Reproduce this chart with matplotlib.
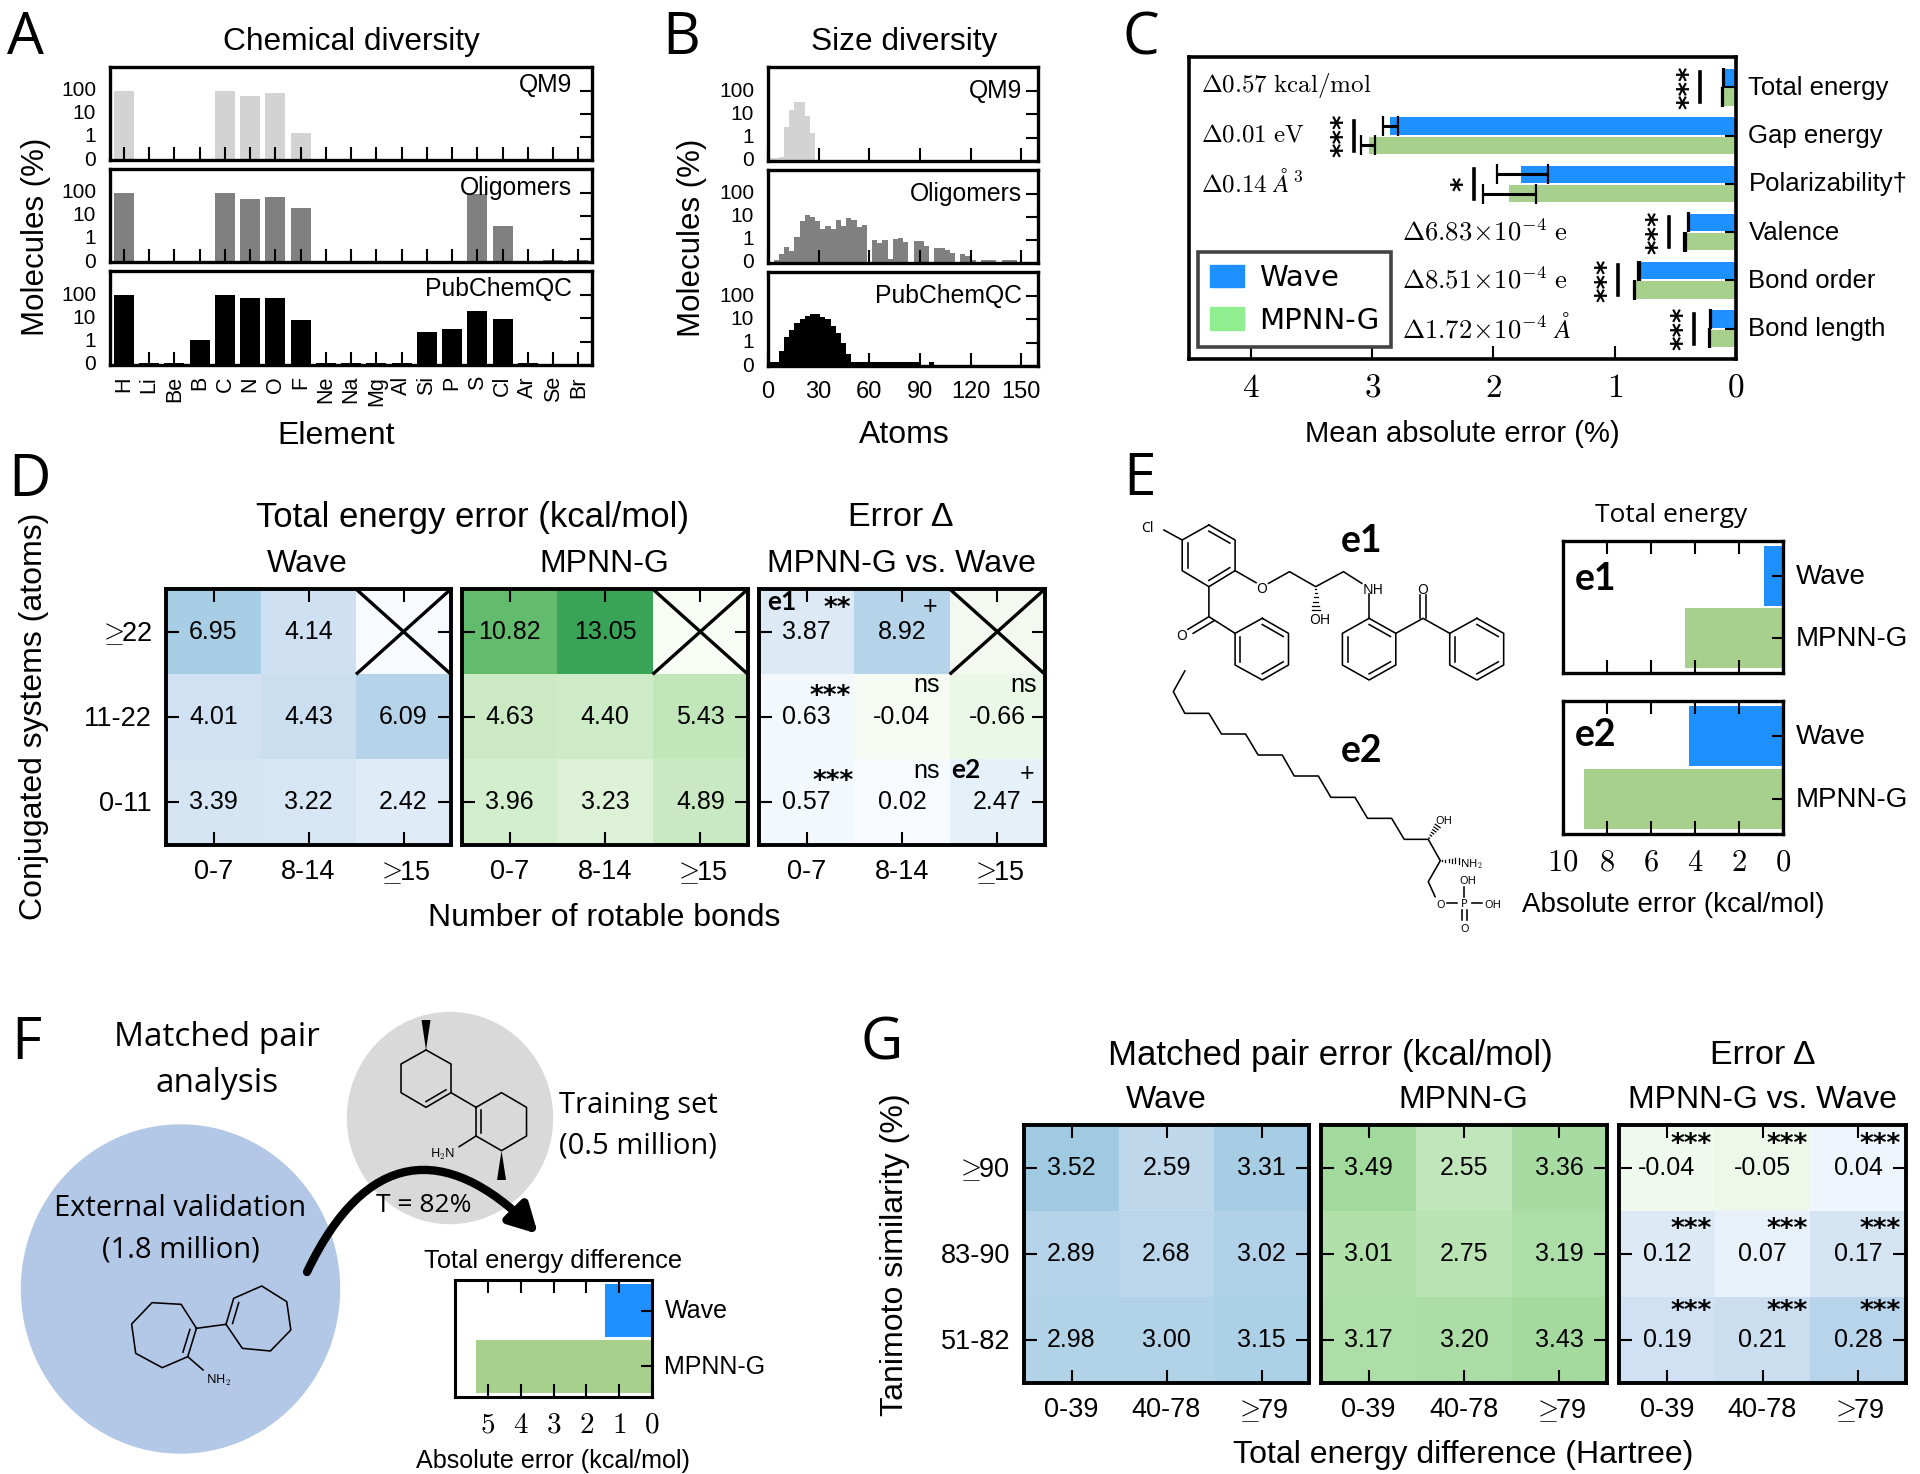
import numpy as np
import matplotlib
matplotlib.use('Agg')
import matplotlib.pyplot as plt
from matplotlib.patches import Ellipse, FancyArrowPatch, Patch
from matplotlib.path import Path
from matplotlib.ticker import NullLocator
from matplotlib.transforms import ScaledTranslation

plt.rcParams['font.family'] = ['Liberation Sans', 'DejaVu Sans']
plt.rcParams['mathtext.fontset'] = 'cm'

W, H = 1920, 1474

# panel A
elements = ['H', 'Li', 'Be', 'B', 'C', 'N', 'O', 'F', 'Ne', 'Na', 'Mg', 'Al', 'Si', 'P', 'S', 'Cl', 'Ar', 'Se', 'Br']
elem_qm9 = [100, 0, 0, 0, 100, 60, 85, 1.5, 0, 0, 0, 0, 0, 0, 0, 0, 0, 0, 0]
elem_oligo = [100, 0, 0, 0, 100, 57, 70, 22, 0, 0, 0, 0, 0, 0, 90, 3.5, 0, 0.12, 0.12]
elem_pub = [100, 0.12, 0.12, 1.2, 100, 75, 75, 9, 0.12, 0.12, 0.12, 0.12, 2.7, 3.7, 20, 9.5, 0.12, 0, 0]

# panel B, bins of about 3 atoms
size_qm9 = [0.14, 0.14, 0.15, 2.8, 16, 36, 34, 8.4, 1.6, 0.11]
size_oligo = [0, 0.14, 0.25, 0.5, 0.32, 1.3, 6.5, 12, 10, 7, 3, 4, 3, 7.5, 3.9, 9, 7.5, 3.7, 4.5, 0.1,
              1, 0.75, 1.05, 0.15, 1.1, 1.2, 0.85, 0.1, 0.95, 0.95, 0.57, 0.1, 0.46, 0.46, 0.35, 0.27, 0.1,
              0.25, 0.2, 0.14, 0.1, 0.14, 0.14, 0.14, 0.1, 0.14, 0.14, 0.14]
size_pub = [0.15, 0.15, 0.45, 1.7, 3.6, 7, 11, 14, 17, 17, 12.5, 10, 5.5, 2.5, 1, 0.32,
            0.15, 0.15, 0.15, 0.15, 0.15, 0.15, 0.15, 0.15, 0.15, 0.15, 0.15, 0.15, 0.15, 0, 0, 0.15]

# panel C
props = ['Total energy', 'Gap energy', 'Polarizability†', 'Valence', 'Bond order', 'Bond length']
mae_wave = [0.10, 2.85, 1.77, 0.39, 0.80, 0.21]
mae_mpnn = [0.11, 3.03, 1.87, 0.42, 0.84, 0.22]
err_wave_lo = [0.005, 0.06, 0.22, 0.005, 0.005, 0.005]
err_wave_hi = [0.005, 0.06, 0.20, 0.005, 0.005, 0.005]
err_mpnn_lo = [0.005, 0.05, 0.22, 0.005, 0.005, 0.005]
err_mpnn_hi = [0.005, 0.06, 0.22, 0.005, 0.005, 0.005]
sig_pos = [0.293, 3.15, 2.16, 0.55, 0.97, 0.345]
sig_stars = ['***', '***', '*', '***', '***', '***']
delta_text = [r'$\Delta 0.57\ \mathrm{kcal/mol}$', r'$\Delta 0.01\ \mathrm{eV}$', r'$\Delta 0.14\ \mathit{\AA}^3$',
              r'$\Delta 6.83\!\times\!10^{-4}\ \mathrm{e}$', r'$\Delta 8.51\!\times\!10^{-4}\ \mathrm{e}$',
              r'$\Delta 1.72\!\times\!10^{-4}\ \mathit{\AA}$']

# panel D
GE = r'$\geq\!\!$'
d_rows = [GE + '22', '11-22', '0-11']
d_cols = ['0-7', '8-14', GE + '15']
d_wave = [[6.95, 4.14, np.nan], [4.01, 4.43, 6.09], [3.39, 3.22, 2.42]]
d_mpnn = [[10.82, 13.05, np.nan], [4.63, 4.40, 5.43], [3.96, 3.23, 4.89]]
d_delta = [[3.87, 8.92, np.nan], [0.63, -0.04, -0.66], [0.57, 0.02, 2.47]]

# panel E and F
e1_err = [0.88, 4.47]
e2_err = [4.26, 9.05]
f_err = [1.44, 5.37]

# panel G
g_rows = [GE + '90', '83-90', '51-82']
g_cols = ['0-39', '40-78', GE + '79']
g_wave = [[3.52, 2.59, 3.31], [2.89, 2.68, 3.02], [2.98, 3.00, 3.15]]
g_mpnn = [[3.49, 2.55, 3.36], [3.01, 2.75, 3.19], [3.17, 3.20, 3.43]]
g_delta = [[-0.04, -0.05, 0.04], [0.12, 0.07, 0.17], [0.19, 0.21, 0.28]]

BLUE = '#1e90ff'
GREEN = '#a8d08d'
BOLD = {'weight': 'bold', 'family': 'Lato'}

fig = plt.figure(figsize=(19.2, 14.74), dpi=100)


def add_ax(l, t, r, b, lw=2.4):
    ax = fig.add_axes([l / W, 1 - b / H, (r - l) / W, (b - t) / H])
    for s in ax.spines.values():
        s.set_linewidth(lw)
    return ax


def label(x, y, s, size=22.5, **kw):
    kw.setdefault('ha', 'center')
    kw.setdefault('va', 'center')
    if kw.get('rotation'):
        x += 3
    else:
        y += 3
    fig.text(x / W, 1 - y / H, s, fontsize=size, **kw)


def nudge(ax, dy=2):
    # the y tick labels sit a little above their ticks in the reference
    off = ScaledTranslation(0, dy / 100, fig.dpi_scale_trans)
    for lb in ax.get_yticklabels():
        lb.set_transform(lb.get_transform() + off)


def log_panel(ax, xticks):
    ax.set_yscale('log')
    ax.set_ylim(0.1, 1100)
    ax.set_yticks([0.1, 1, 10, 100], ['0', '1', '10', '100'])
    ax.yaxis.set_minor_locator(NullLocator())
    ax.set_xticks(xticks)
    ax.tick_params(axis='y', direction='in', left=False, right=True, labelleft=True,
                   length=9, width=1.5, pad=10, labelsize=15)
    ax.tick_params(axis='x', direction='in', length=9.5, width=1.5, labelbottom=False)
    nudge(ax)


# ---- A
rows_y = [(67, 160), (169, 262), (271, 365)]
for (t, b), vals, col, name, ty in zip(rows_y, [elem_qm9, elem_oligo, elem_pub], ['lightgray', 'gray', 'black'],
                                       ['QM9', 'Oligomers', 'PubChemQC'], [82, 185, 286]):
    ax = add_ax(110, t, 592, b)
    log_panel(ax, range(len(elements)))
    ax.bar(range(len(elements)), vals, width=0.8, color=col, zorder=1)
    ax.set_xlim(-0.55, 18.54)
    label(572, ty, name, size=17.8, ha='right')
ax.set_xticklabels(elements, rotation=90, fontsize=15.5)
ax.tick_params(axis='x', labelbottom=True, pad=8)
label(33, 237, 'Molecules (%)', rotation=90)
label(336, 433, 'Element', size=23)
label(351, 39, 'Chemical diversity', size=22.8)

# ---- B
bin_w = 3.07
rows_y = [(67, 161), (170, 263), (272, 366)]
for (t, b), vals, col, name, ty in zip(rows_y, [size_qm9, size_oligo, size_pub], ['lightgray', 'gray', 'black'],
                                       ['QM9', 'Oligomers', 'PubChemQC'], [88, 191, 293]):
    ax = add_ax(768, t, 1038, b)
    log_panel(ax, range(0, 151, 30))
    ax.bar(0.3 + bin_w * np.arange(len(vals)), vals, width=bin_w, align='edge', color=col, zorder=1)
    ax.set_xlim(0, 160)
    label(1022, ty, name, size=17.8, ha='right')
ax.tick_params(axis='x', labelbottom=True, labelsize=17, pad=11)
label(689, 238, 'Molecules (%)', rotation=90)
label(904, 432, 'Atoms', size=23)
label(904, 39, 'Size diversity', size=22.8)

# ---- C
ax = add_ax(1189, 57, 1736, 359, lw=2.6)
y = np.arange(len(props))
ax.barh(y - 0.2, mae_wave, height=0.36, color=BLUE, zorder=1)
ax.barh(y + 0.2, mae_mpnn, height=0.36, color=GREEN, zorder=1)
ax.errorbar(mae_wave, y - 0.2, xerr=[err_wave_lo, err_wave_hi], fmt='none', ecolor='k', elinewidth=2.2, capsize=7, capthick=1.6)
ax.errorbar(mae_mpnn, y + 0.2, xerr=[err_mpnn_lo, err_mpnn_hi], fmt='none', ecolor='k', elinewidth=2.2, capsize=7, capthick=1.6)
ax.set_xlim(4.51, 0)
ax.set_ylim(5.63, -0.63)
ax.set_yticks(y, props, fontsize=18.5)
ax.set_xticks(range(5), [f'${i}$' for i in range(5)], fontsize=24)
ax.tick_params(axis='y', direction='in', left=False, right=True, labelleft=False, labelright=True, length=8, width=1.5, pad=9)
ax.tick_params(axis='x', direction='in', length=9.5, width=1.5, pad=10)
nudge(ax)
for i in y:
    ax.plot([sig_pos[i], sig_pos[i]], [i - 0.31, i + 0.31], color='k', lw=2.6)
    ax.text(sig_pos[i] + 0.09, i, sig_stars[i], rotation=90, ha='center', va='center', fontsize=20, family='DejaVu Sans', weight='bold')
for i, s in enumerate(delta_text):
    x0 = 1201 if i < 3 else 1402
    label(x0, [83, 131, 180, 230, 278, 326][i], s, size=18 if i < 3 else 19.2, ha='left')
leg = ax.legend(handles=[Patch(color=BLUE, label='Wave'), Patch(color='#90ee90', label='MPNN-G')], loc='lower left',
                bbox_to_anchor=(0.016, 0.04), borderaxespad=0, fancybox=False, framealpha=1, edgecolor='#444444',
                prop={'family': 'DejaVu Sans', 'size': 21}, handlelength=1.17, handleheight=0.8, handletextpad=0.5,
                labelspacing=0.5, borderpad=0.42)
leg.get_frame().set_linewidth(2.6)
label(1462, 431, 'Mean absolute error (%)', size=21)


# ---- heat maps
def finish_heat(ax, vals, rows, cols):
    for i in range(3):
        for j in range(3):
            if np.isnan(vals[i, j]):
                ax.plot([j - 0.5, j + 0.5], [i - 0.5, i + 0.5], color='k', lw=2.4, solid_capstyle='butt')
                ax.plot([j - 0.5, j + 0.5], [i + 0.5, i - 0.5], color='k', lw=2.4, solid_capstyle='butt')
            else:
                ax.text(j, i, f'{vals[i, j]:.2f}', ha='center', va='center', fontsize=18)
    ax.set_xlim(-0.5, 2.5)
    ax.set_ylim(2.5, -0.5)
    ax.set_xticks(range(3), cols, fontsize=19.5)
    ax.set_yticks(range(3), rows if rows else ['', '', ''], fontsize=19.5)
    ax.tick_params(direction='in', top=True, right=True, length=9.5, width=1.5, pad=10)
    nudge(ax, 1)


def heat(ax, vals, cmap, vmax, rows=None, cols=None, bad='white'):
    vals = np.array(vals, float)
    ax.set_facecolor(bad)
    ax.imshow(np.ma.masked_invalid(vals), cmap=cmap, vmin=0, vmax=vmax, aspect='auto')
    finish_heat(ax, vals, rows, cols)


def heat_delta(ax, vals, vpos, vneg, rows=None, cols=None, bad='white'):
    vals = np.array(vals, float)
    ax.set_facecolor(bad)
    m = np.ma.masked_invalid(vals)
    ax.imshow(np.ma.masked_less(m, 0), cmap='Blues', vmin=0, vmax=vpos, aspect='auto')
    ax.imshow(np.ma.masked_less(-m, 0), cmap='Greens', vmin=0, vmax=vneg, aspect='auto')
    finish_heat(ax, vals, rows, cols)


t, b = 589, 845
heat(add_ax(166, t, 451, b, 2.8), d_wave, 'Blues', 20, d_rows, d_cols, '#f7fbff')
heat(add_ax(462, t, 748, b, 2.8), d_mpnn, 'Greens', 20, None, d_cols, '#f7fcf5')
heat_delta(add_ax(759, t, 1045, b, 2.8), d_delta, 30, 8, None, d_cols, '#f3f9f0')
label(472, 514, 'Total energy error (kcal/mol)', size=25)
label(901, 514, 'Error Δ', size=24.5)
label(307, 561, 'Wave', size=23)
label(604, 561, 'MPNN-G', size=23)
label(901, 561, 'MPNN-G vs. Wave', size=23)
label(604, 915, 'Number of rotable bonds', size=23)
label(31, 716, 'Conjugated systems (atoms)', size=23, rotation=90)
for x0, y0, s in [(837, 606, '**'), (830, 694, '***'), (833, 779, '***')]:
    label(x0, y0, s, size=19, family='DejaVu Sans', weight='bold')
for x0, y0, s in [(930, 604, '+'), (1027, 771, '+')]:
    label(x0, y0, s, size=18)
for x0, y0 in [(927, 682), (1024, 682), (927, 768)]:
    label(x0, y0, 'ns', size=18)
label(782, 599, 'e1', size=19, **BOLD)
label(966, 767, 'e2', size=19, **BOLD)

t, b = 1125, 1383
heat(add_ax(1024, t, 1309, b, 2.8), g_wave, 'Blues', 9.5, g_rows, g_cols)
heat(add_ax(1321, t, 1607, b, 2.8), g_mpnn, 'Greens', 9.5, None, g_cols)
heat_delta(add_ax(1619, t, 1906, b, 2.8), g_delta, 0.95, 0.8, None, g_cols)
label(1330, 1053, 'Matched pair error (kcal/mol)', size=25)
label(1763, 1053, 'Error Δ', size=24.5)
label(1166, 1097, 'Wave', size=23)
label(1463, 1097, 'MPNN-G', size=23)
label(1762, 1097, 'MPNN-G vs. Wave', size=23)
label(1463, 1452, 'Total energy difference (Hartree)', size=23)
label(892, 1255, 'Tanimoto similarity (%)', size=23, rotation=90)
for y0 in [1142, 1227, 1309]:
    for x0 in [1691, 1787, 1880]:
        label(x0, y0, '***', size=19, family='DejaVu Sans', weight='bold')


# ---- small two bar panels
def pair(ax, vals, xlim, xticks, fs, tick_fs):
    ax.barh([0, 1], vals, height=0.96, color=[BLUE, GREEN], zorder=1)
    ax.set_xlim(xlim, 0)
    ax.set_ylim(1.56, -0.56)
    ax.set_xticks(xticks)
    ax.set_yticks([0, 1], ['Wave', 'MPNN-G'], fontsize=fs)
    ax.tick_params(axis='y', direction='in', left=False, right=True, labelleft=False, labelright=True, length=8, width=1.5, pad=9)
    ax.tick_params(axis='x', direction='in', top=True, length=9.5, width=1.5, labelsize=tick_fs, pad=10)
    nudge(ax)


ax = add_ax(1563, 541, 1783, 673)
pair(ax, e1_err, 10, range(2, 9, 2), 20, 22)
ax.tick_params(labelbottom=False)
ax = add_ax(1563, 701, 1783, 834)
pair(ax, e2_err, 10, range(0, 11, 2), 20, 22)
ax.set_xticklabels([f'${i}$' for i in range(0, 11, 2)])
label(1596, 576, 'e1', size=27, **BOLD)
label(1596, 732, 'e2', size=27, **BOLD)
label(1671, 512, 'Total energy', size=19, family='Open Sans')
label(1673, 902, 'Absolute error (kcal/mol)', size=20)

ax = add_ax(455, 1280, 652, 1397, 2.2)
pair(ax, f_err, 6, range(0, 6), 18, 21)
ax.set_xticklabels([f'${i}$' for i in range(6)])
label(553, 1258, 'Total energy difference', size=18.3)
label(553, 1458, 'Absolute error (kcal/mol)', size=18.1)

# ---- panel E and F drawings on a pixel canvas below the other axes
ov = fig.add_axes([0, 0, 1, 1], zorder=-1)
ov.set_xlim(0, W)
ov.set_ylim(H, 0)
ov.axis('off')
ov.add_patch(Ellipse((180.5, 1289), 318, 328, color='#b3c7e6'))
ov.add_patch(Ellipse((450, 1118), 205, 211, color='#d9d9d9'))
arrow_path = Path([(307, 1272), (365, 1150), (445, 1140), (538, 1234)], [Path.MOVETO, Path.CURVE4, Path.CURVE4, Path.CURVE4])
ov.add_patch(FancyArrowPatch(path=arrow_path, lw=6, color='k', arrowstyle='-|>,head_length=1.2,head_width=0.65', mutation_scale=14))


def bonds(conv, pts, closed=False, lw=1.15):
    p = [conv(*q) for q in pts]
    if closed:
        p.append(p[0])
    ov.plot([q[0] for q in p], [q[1] for q in p], color='k', lw=lw, solid_joinstyle='round')


def ring(conv, pts, doubles=()):
    bonds(conv, pts, closed=True)
    p = np.array([conv(*q) for q in pts])
    c = p.mean(axis=0)
    for i in doubles:
        a, b_ = p[i], p[(i + 1) % len(p)]
        a2, b2 = a + (c - a) * 0.2, b_ + (c - b_) * 0.2
        ov.plot([a2[0], b2[0]], [a2[1], b2[1]], color='k', lw=1.15)


def hashed(conv, a, b_, w=4, n=6):
    a, b_ = np.array(conv(*a)), np.array(conv(*b_))
    d = (b_ - a) / np.linalg.norm(b_ - a)
    nrm = np.array([-d[1], d[0]])
    for k in np.linspace(0.1, 1, n):
        m = a + (b_ - a) * k
        ov.plot(*zip(m - nrm * w * k, m + nrm * w * k), color='k', lw=0.9)


def wedge(conv, a, b_, w=4.5):
    a, b_ = np.array(conv(*a)), np.array(conv(*b_))
    d = (b_ - a) / np.linalg.norm(b_ - a)
    nrm = np.array([-d[1], d[0]])
    ov.fill(*zip(a, b_ + nrm * w, b_ - nrm * w), color='k', lw=0)


def z5(x, y):
    return 1100 + x / 1.91, 470 + y / 3


def z6(x, y):
    return x / 1.96, 1000 + y / 3


def atom(conv, x, y, s, size=10):
    px, py = conv(x, y)
    label(px, py - 2, s, size=size, family='Noto Sans')


# e1
ring(z5, [(208, 165), (258, 210), (258, 302), (208, 350), (157, 302), (157, 210)], [0, 2, 4])
bonds(z5, [(122, 180), (157, 210)])
bonds(z5, [(258, 302), (298, 338)])
bonds(z5, [(322, 340), (362, 305), (412, 350), (465, 305), (500, 340)])
hashed(z5, (412, 350), (412, 420))
bonds(z5, [(208, 350), (208, 440), (258, 490)])
bonds(z5, [(208, 440), (168, 478)])
bonds(z5, [(218, 452), (178, 490)])
ring(z5, [(310, 445), (360, 490), (360, 585), (310, 630), (258, 585), (258, 490)], [0, 2, 4])
bonds(z5, [(514, 372), (514, 445)])
ring(z5, [(514, 445), (565, 490), (565, 585), (514, 630), (463, 585), (463, 490)], [0, 2, 4])
bonds(z5, [(565, 490), (617, 445), (668, 490)])
bonds(z5, [(612, 445), (612, 375)])
bonds(z5, [(622, 445), (622, 375)])
ring(z5, [(720, 445), (771, 490), (771, 585), (720, 630), (668, 585), (668, 490)], [0, 2, 4])
for x0, y0, s in [(90, 172, 'Cl'), (309, 355, 'O'), (420, 450, 'OH'), (522, 357, 'NH'), (155, 495, 'O'), (617, 357, 'O')]:
    atom(z5, x0, y0, s)
# e2
bonds(z5, [(162, 603), (140, 665), (162, 730), (208, 730), (232, 792), (278, 792), (302, 855), (348, 855), (371, 918),
           (417, 918), (441, 982), (487, 982), (511, 1045), (557, 1045), (581, 1108), (627, 1108), (650, 1172),
           (627, 1235), (640, 1280)])
hashed(z5, (627, 1108), (645, 1068), w=3)
hashed(z5, (650, 1172), (685, 1172), w=3)
bonds(z5, [(662, 1300), (682, 1300)])
bonds(z5, [(710, 1300), (730, 1300)])
bonds(z5, [(696, 1250), (696, 1282)])
bonds(z5, [(691, 1320), (691, 1350)])
bonds(z5, [(701, 1320), (701, 1350)])
for x0, y0, s in [(656, 1050, 'OH'), (710, 1178, r'NH$_2$'), (650, 1302, 'O'), (696, 1300, 'P'), (750, 1302, 'OH'),
                  (703, 1230, 'OH'), (696, 1375, 'O')]:
    atom(z5, x0, y0, s, size=8)
label(1100 + 500 / 1.91, 470 + 205 / 3, 'e1', size=27, **BOLD)
label(1100 + 500 / 1.91, 470 + 835 / 3, 'e2', size=27, **BOLD)

# panel F molecules
ring(z6, [(835, 150), (884, 192), (884, 278), (835, 322), (786, 278), (786, 192)], [2])
wedge(z6, (835, 150), (835, 60))
bonds(z6, [(884, 278), (933, 322)])
ring(z6, [(933, 322), (983, 278), (1032, 322), (1032, 408), (983, 452), (933, 408)], [5])
bonds(z6, [(933, 408), (900, 440)])
wedge(z6, (983, 452), (983, 540))
atom(z6, 868, 460, r'H$_2$N', size=9)
ring(z6, [(385, 985), (355, 913), (298, 908), (258, 972), (266, 1060), (318, 1103), (368, 1070)], [6])
bonds(z6, [(385, 985), (443, 973)])
ring(z6, [(443, 973), (458, 895), (513, 858), (562, 905), (570, 990), (530, 1053), (475, 1045)], [0])
bonds(z6, [(368, 1070), (398, 1110)])
atom(z6, 428, 1138, r'NH$_2$', size=9)

for x0, y0, s, fs in [(217, 1035, 'Matched pair', 24), (217, 1080, 'analysis', 24), (638, 1102, 'Training set', 21),
                      (638, 1143, '(0.5 million)', 21), (180.5, 1206, 'External validation', 21),
                      (180.5, 1247, '(1.8 million)', 21), (424, 1203, 'T = 82%', 19)]:
    label(x0, y0, s, size=fs, family='Open Sans')

for x0, y0, s in [(7, 36, 'A'), (662, 36, 'B'), (1123, 36, 'C'), (8, 478, 'D'), (1123, 477, 'E'), (11, 1041, 'F'), (860, 1041, 'G')]:
    label(x0, y0, s, size=42, ha='left', family='Open Sans')

fig.savefig('out.png', dpi=100)
